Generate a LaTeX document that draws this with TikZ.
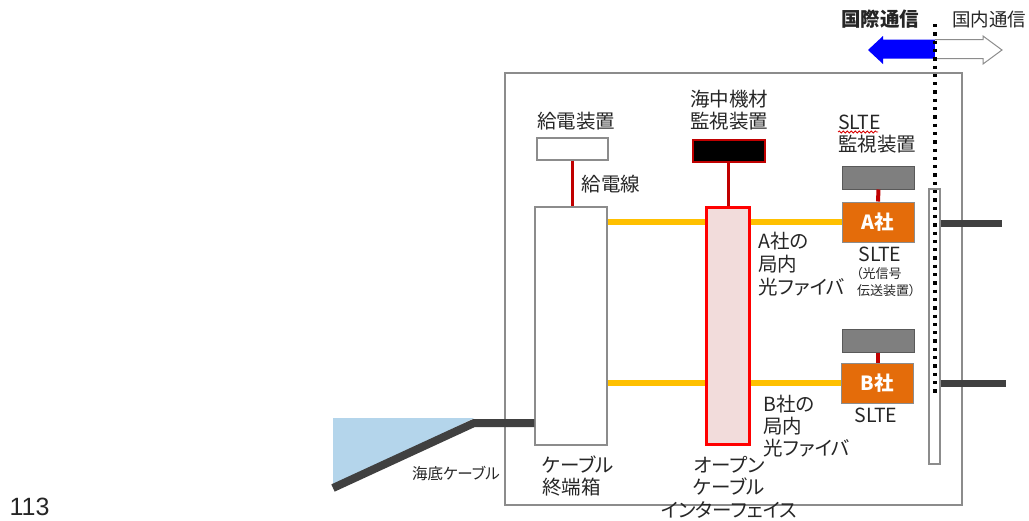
\documentclass[tikz,border=0pt]{standalone}
\usepackage{fontspec}
\setmainfont{Noto Sans CJK JP}[RawFeature=+palt]
\newfontfamily\numfont{Liberation Sans}
\usetikzlibrary{decorations.pathmorphing}
\definecolor{dred}{HTML}{C00000}
\definecolor{bred}{HTML}{FF0000}
\definecolor{pinkfill}{HTML}{F2DCDB}
\definecolor{fiber}{HTML}{FFC000}
\definecolor{slte}{HTML}{E46C0A}
\definecolor{monfill}{HTML}{7F7F7F}
\definecolor{monedge}{HTML}{595959}
\definecolor{cablec}{HTML}{404040}
\definecolor{boxgray}{HTML}{8C8C8C}
\definecolor{sea}{HTML}{B4D5EB}
\definecolor{txt}{HTML}{262626}
\begin{document}
\begin{tikzpicture}[x=1pt,y=-1pt,
  box/.style={draw=boxgray, line width=1.2pt, fill=white, inner sep=0pt},
  lbl/.style={font=\fontsize{19.5}{22.5}\selectfont, text=txt, inner sep=0pt},
  small/.style={font=\fontsize{13}{15}\selectfont, text=txt, inner sep=0pt},
  powerline/.style={draw=dred, line width=3.5pt},
  fiberline/.style={draw=fiber, line width=6.5pt},
  darkbar/.style={draw=cablec, line width=7pt},
  monbox/.style={draw=monedge, line width=1pt, fill=monfill, inner sep=0pt, minimum width=72pt, minimum height=23pt},
  sltebox/.style={draw=boxgray, line width=1pt, fill=slte, inner sep=0pt, minimum width=72pt, minimum height=40pt,
     text=white, font=\fontsize{19.5}{22}\selectfont\bfseries}
]
\useasboundingbox (0,0) rectangle (1029,520);

% outer frame
\draw[draw=boxgray, line width=1.5pt] (505,73) rectangle (962,505);

% sea and submarine cable
\fill[sea] (333,418) -- (474,418) -- (333,488) -- cycle;
\coordinate (cabEnd) at (333,488);
\coordinate (cabBend) at (474,423);

% power feeding
\node[box, minimum width=71pt, minimum height=22pt] (psu) at (572.5,149) {};
\node[lbl] (psuL) at (576,121) {給電装置};
\node[box, minimum width=72pt, minimum height=238pt] (cte) at (571,326) {};
\node[lbl] (pline) at (611,184) {給電線};
\draw[powerline] (psu.south) -- (psu.south |- cte.north);

\draw[cablec, line width=8pt, line join=round] (cabEnd) -- (cabBend) -- (cabBend -| cte.west);
\node[font=\fontsize{15.5}{17}\selectfont, text=txt, inner sep=0pt] (subL) at (456,473) {海底ケーブル};
\node[lbl, align=left, anchor=west, font=\fontsize{19.5}{22}\selectfont] (cteL) at (542,476) {ケーブル\\終端箱};

% undersea equipment monitoring
\node[draw=dred, line width=2pt, fill=black, inner sep=0pt, minimum width=72pt, minimum height=22pt] (mon) at (728.5,151) {};
\node[lbl, align=center, font=\fontsize{19.5}{22.5}\selectfont] (monL) at (729,110) {海中機材\\監視装置};

% open cable interface
\node[draw=bred, line width=3pt, fill=pinkfill, inner sep=0pt, minimum width=43pt, minimum height=237pt] (oci) at (727.5,325.5) {};
\draw[powerline] (mon.south) -- (mon.south |- oci.north);
\node[lbl, align=center, font=\fontsize{19.5}{22.5}\selectfont] (ociL) at (729,487) {オープン\\ケーブル\\インターフェイス};

% SLTE A
\node[monbox] (gA) at (878.5,177.5) {};
\node[sltebox] (sA) at (878,222) {A社};
\draw[powerline, line width=4pt] (gA.south) -- (sA.north);
\node[lbl, align=left, anchor=west, font=\fontsize{19.5}{22}\selectfont] (slteMonL) at (838,134.5) {SLTE\\監視装置};
\draw[red!85!black, line width=0.8pt, decorate, decoration={snake, amplitude=1pt, segment length=4pt}] (838,132) -- (878,132);
\node[lbl] (sAL) at (880,254) {SLTE};
\node[small, anchor=west] (sAL2) at (856,274) {（光信号};
\node[small, anchor=west] (sAL3) at (857,291) {伝送装置）};

% SLTE B
\node[monbox, minimum height=23pt] (gB) at (878,341) {};
\node[sltebox, minimum height=40pt] (sB) at (877,383) {B社};
\draw[powerline, line width=4pt] (gB.south) -- (gB.south |- sB.north);
\node[lbl] (sBL) at (876,415) {SLTE};

% intra-office fibres
\draw[fiberline] (cte.east |- sA) -- (oci.west |- sA);
\draw[fiberline] (oci.east |- sA) -- (sA.west);
\draw[fiberline] (cte.east |- sB) -- (oci.west |- sB);
\draw[fiberline] (oci.east |- sB) -- (sB.west);
\node[lbl, align=left, anchor=west, font=\fontsize{19.5}{23}\selectfont] (fA) at (758,264) {A社の\\局内\\光ファイバ};
\node[lbl, align=left, anchor=west, font=\fontsize{19.5}{22}\selectfont] (fB) at (763,426) {B社の\\局内\\光ファイバ};

% narrow box and landing cables
\node[box, line width=1.2pt, minimum width=11pt, minimum height=275pt] (nar) at (934.5,326.5) {};
\coordinate (endA) at (1002,223);
\coordinate (endB) at (1006,383);
\draw[darkbar] (nar.east |- endA) -- (endA);
\draw[darkbar] (nar.east |- endB) -- (endB);

% international / domestic arrows
\fill[blue] (935,39.5) -- (883,39.5) -- (883,36) -- (868,50) -- (883,64) -- (883,58.5) -- (935,58.5) -- cycle;
\draw[boxgray, fill=white, line width=1pt] (935,39.5) -- (983,39.5) -- (983,36) -- (1002,50) -- (983,64) -- (983,58.5) -- (935,58.5);
\node[lbl, font=\fontsize{19.5}{22}\selectfont\bfseries] (intl) at (880,19) {国際通信};
\node[lbl, font=\fontsize{18.5}{22}\selectfont] (dom) at (989,19) {国内通信};

% boundary dotted line
\coordinate (dTop) at (935,24);
\coordinate (dBot) at (935,396);
\draw[black, line width=3.3pt, dash pattern=on 3.3pt off 5pt] (dTop) -- (dBot);

% page number
\node[font=\numfont\fontsize{25}{30}\selectfont, text=txt, inner sep=0pt] (pg) at (29.5,506.5) {113};
\end{tikzpicture}
\end{document}
